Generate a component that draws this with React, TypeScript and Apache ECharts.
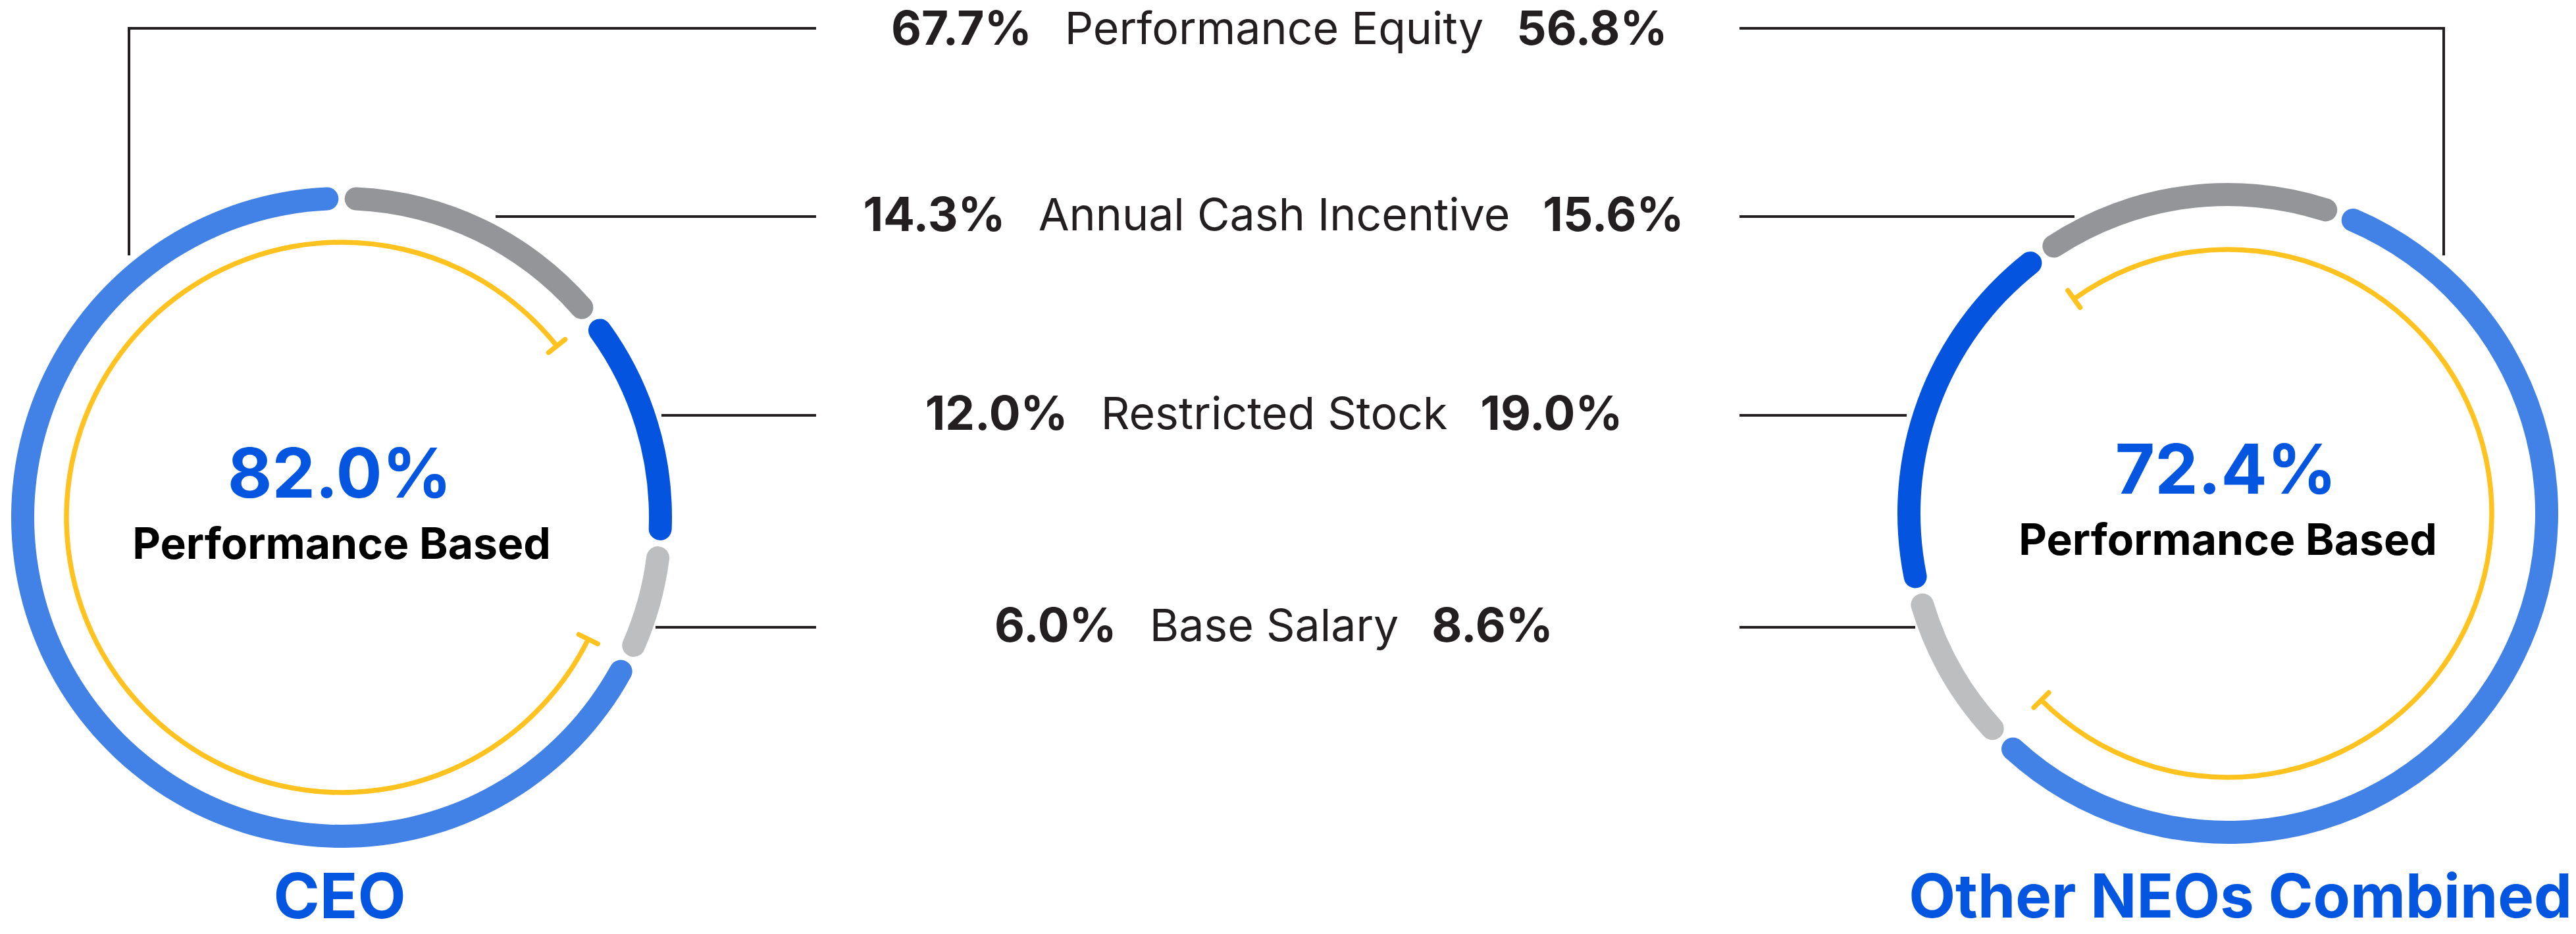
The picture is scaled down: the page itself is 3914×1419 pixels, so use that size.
import React, { useEffect, useRef } from "react";
import * as echarts from "echarts";

// ---- data ----
const categories = ["Annual Cash Incentive", "Restricted Stock", "Base Salary", "Performance Equity"];
const ceoValues = [14.3, 12.0, 6.0, 67.7];
const neoValues = [15.6, 19.0, 8.6, 56.8];
const performanceBased = [true, false, false, true];
const rowOrder = ["Performance Equity", "Annual Cash Incentive", "Restricted Stock", "Base Salary"];
const groupTitles = ["CEO", "Other NEOs Combined"];
const centerCaption = "Performance Based";

// ---- styling / layout ----
const segmentColors = ["#939598", "#0454E0", "#BCBEC0", "#4281E6"];
const YELLOW = "#FFC21F";
const BLUE_TEXT = "#0455DF";
const DARK = "#231F20";
const FONT = 'Inter, "Open Sans", sans-serif';

const W = 3914;
const H = 1419;
const ceoCenter = [519, 786];
const neoCenter = [3385, 780];
const ringOuter = 502;
const ringWidth = 35;
const ceoYellowR = 418;
const neoYellowR = 401;
const yellowWidth = 7.5;
const ceoStart = 90;
const neoStart = 69.5;

const rowLineY = [43, 329, 631, 953];
const rowTextY = [42, 325, 627, 949];
const leftLineStart = [196, 753, 1005, 996];
const leftLineEnd = 1240;
const rightLineStart = 2643;
const rightLineEnd = [3713, 3152, 2897, 2910];
const elbowBottomY = [388, 388];
const nameCenterX = 1936;
const valueGap = 50;
const labelSize = 68;
const valueSize = 71;

const fmt = (v: number) => v.toFixed(1) + "%";

function measure(text: string, weight: number, size: number, family: string) {
  const c = document.createElement("canvas");
  const ctx = c.getContext("2d");
  if (!ctx) return text.length * size * 0.55;
  ctx.font = `${weight} ${size}px ${family}`;
  return ctx.measureText(text).width;
}

function ringSeries(values: number[], center: number[], start: number, clockwise: boolean) {
  return {
    type: "pie",
    silent: true,
    center,
    radius: [ringOuter - ringWidth, ringOuter],
    startAngle: start,
    clockwise,
    padAngle: 1.1,
    itemStyle: { borderRadius: ringWidth / 2, borderWidth: 0 },
    label: { show: false },
    labelLine: { show: false },
    emphasis: { disabled: true },
    data: categories.map((c, i) => ({ name: c, value: values[i], itemStyle: { color: segmentColors[i] } })),
  };
}

function yellowSeries(values: number[], center: number[], start: number, clockwise: boolean, r: number) {
  return {
    type: "pie",
    silent: true,
    center,
    radius: [r - yellowWidth / 2, r + yellowWidth / 2],
    startAngle: start,
    clockwise,
    padAngle: 0,
    itemStyle: { borderWidth: 0 },
    label: { show: false },
    labelLine: { show: false },
    emphasis: { disabled: true },
    data: categories.map((c, i) => ({
      name: c,
      value: values[i],
      itemStyle: { color: performanceBased[i] ? YELLOW : "rgba(0,0,0,0)" },
    })),
  };
}

// end markers of the yellow (performance-based) arc
function yellowEnds(values: number[], center: number[], start: number, clockwise: boolean, r: number) {
  const total = values.reduce((a, b) => a + b, 0);
  const s = clockwise ? -1 : 1;
  const bounds: number[] = [];
  let cum = 0;
  for (let i = 0; i <= values.length; i++) {
    bounds.push(start + (s * 360 * cum) / total);
    if (i < values.length) cum += values[i];
  }
  const angles: number[] = [];
  const n = values.length;
  for (let i = 0; i < n; i++) {
    const next = (i + 1) % n;
    if (performanceBased[i] && !performanceBased[next]) angles.push(bounds[i + 1]);
    if (performanceBased[next] && !performanceBased[i]) angles.push(bounds[i + 1]);
  }
  const half = 16;
  return angles.map((a) => {
    const t = (a * Math.PI) / 180;
    const ux = Math.cos(t);
    const uy = -Math.sin(t);
    const px = center[0] + r * ux;
    const py = center[1] + r * uy;
    return {
      type: "line",
      silent: true,
      shape: { x1: px - ux * half, y1: py - uy * half, x2: px + ux * half, y2: py + uy * half },
      style: { stroke: YELLOW, lineWidth: yellowWidth, lineCap: "round" },
      z: 10,
    };
  });
}

function text(t: string, x: number, y: number, size: number, weight: number, fill: string, align: string) {
  return {
    type: "text",
    silent: true,
    x,
    y,
    z: 20,
    style: {
      text: t,
      fill,
      fontSize: size,
      fontWeight: weight,
      fontFamily: FONT,
      font: `${weight} ${size}px ${FONT}`,
      lineHeight: size,
      align,
      textAlign: align,
      verticalAlign: "middle",
      textVerticalAlign: "middle",
    },
  };
}

export default function App() {
  const ref = useRef<HTMLDivElement>(null);

  useEffect(() => {
    if (!ref.current) return;
    const chart = echarts.init(ref.current, null, { renderer: "svg" });

    const graphics: any[] = [];

    // leader lines + middle labels
    rowOrder.forEach((name, r) => {
      const y = rowLineY[r];
      const lineStyle = { stroke: DARK, lineWidth: 4, fill: null };
      if (r === 0) {
        graphics.push({
          type: "polyline",
          silent: true,
          shape: { points: [[leftLineStart[r], elbowBottomY[0]], [leftLineStart[r], y], [leftLineEnd, y]] },
          style: lineStyle,
        });
        graphics.push({
          type: "polyline",
          silent: true,
          shape: { points: [[rightLineStart, y], [rightLineEnd[r], y], [rightLineEnd[r], elbowBottomY[1]]] },
          style: lineStyle,
        });
      } else {
        graphics.push({
          type: "line",
          silent: true,
          shape: { x1: leftLineStart[r], y1: y, x2: leftLineEnd, y2: y },
          style: lineStyle,
        });
        graphics.push({
          type: "line",
          silent: true,
          shape: { x1: rightLineStart, y1: y, x2: rightLineEnd[r], y2: y },
          style: lineStyle,
        });
      }

      const idx = categories.indexOf(name);
      const ty = rowTextY[r];
      const nameW = measure(name, 400, labelSize, FONT);
      graphics.push(text(name, nameCenterX, ty, labelSize, 400, DARK, "center"));
      graphics.push(text(fmt(ceoValues[idx]), nameCenterX - nameW / 2 - valueGap, ty, valueSize, 700, DARK, "right"));
      graphics.push(text(fmt(neoValues[idx]), nameCenterX + nameW / 2 + valueGap, ty, valueSize, 700, DARK, "left"));
    });

    // center captions
    const perfSum = (vals: number[]) => vals.reduce((a, v, i) => a + (performanceBased[i] ? v : 0), 0);
    [
      { c: ceoCenter, vals: ceoValues },
      { c: neoCenter, vals: neoValues },
    ].forEach(({ c, vals }) => {
      graphics.push(text(fmt(perfSum(vals)), c[0] - 3, c[1] - 68, 104, 700, BLUE_TEXT, "center"));
      graphics.push(text(centerCaption, c[0], c[1] + 39, 66, 700, "#000000", "center"));
    });

    // group titles
    graphics.push(text(groupTitles[0], 516, 1360, 95, 700, BLUE_TEXT, "center"));
    graphics.push(text(groupTitles[1], 3908, 1360, 92, 700, BLUE_TEXT, "right"));

    // yellow arc end markers
    graphics.push(...yellowEnds(ceoValues, ceoCenter, ceoStart, true, ceoYellowR));
    graphics.push(...yellowEnds(neoValues, neoCenter, neoStart, false, neoYellowR));

    chart.setOption({
      animation: false,
      backgroundColor: "#ffffff",
      series: [
        ringSeries(ceoValues, ceoCenter, ceoStart, true),
        ringSeries(neoValues, neoCenter, neoStart, false),
        yellowSeries(ceoValues, ceoCenter, ceoStart, true, ceoYellowR),
        yellowSeries(neoValues, neoCenter, neoStart, false, neoYellowR),
      ],
      graphic: { elements: graphics },
    });

    return () => chart.dispose();
  }, []);

  return (
    <div
      ref={ref}
      style={{ position: "fixed", left: 0, top: 0, width: W + "px", height: H + "px", background: "#fff" }}
    />
  );
}
